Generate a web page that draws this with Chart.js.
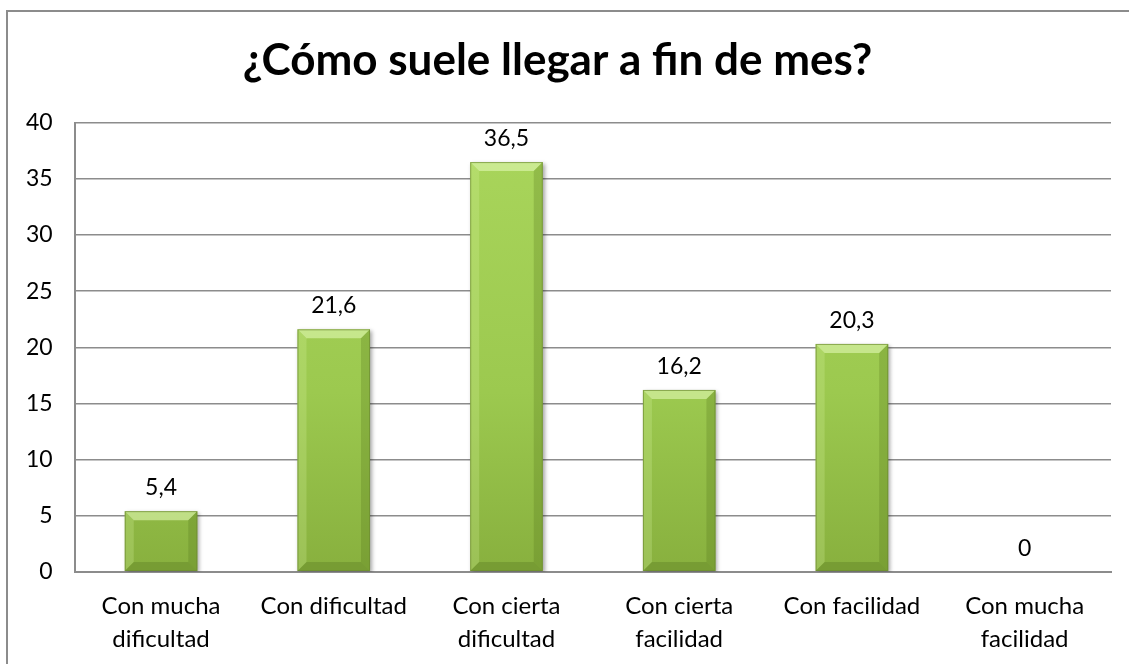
<!DOCTYPE html>
<html>
<head>
<meta charset="utf-8">
<script src="https://cdn.jsdelivr.net/npm/chart.js@4.4.0/dist/chart.umd.min.js"></script>
<style>
    html, body { margin: 0; padding: 0; background: #fff; }
    #wrap { width: 1129px; height: 664px; position: relative; }
</style>
</head>
<body>
<div id="wrap"><canvas id="chart"></canvas></div>
<script>
// --- DATA ---
const categories = [
    ['Con mucha', 'dificultad'],
    'Con dificultad',
    ['Con cierta', 'dificultad'],
    ['Con cierta', 'facilidad'],
    'Con facilidad',
    ['Con mucha', 'facilidad']
];
const values = [5.4, 21.6, 36.5, 16.2, 20.3, 0];
const yTicks = [0, 5, 10, 15, 20, 25, 30, 35, 40];
const chartTitle = '¿Cómo suele llegar a fin de mes?';

const FONT = "Lato, 'Open Sans', sans-serif";
const GRID = '#8c8c8c';

// outer frame like the spreadsheet chart box
const framePlugin = {
    id: 'frame',
    beforeDraw(chart) {
        const ctx = chart.ctx;
        ctx.save();
        ctx.fillStyle = '#fff';
        ctx.fillRect(0, 0, chart.width, chart.height);
        ctx.strokeStyle = GRID;
        ctx.lineWidth = 2;
        ctx.beginPath();
        ctx.moveTo(7, chart.height);
        ctx.lineTo(7, 11);
        ctx.lineTo(chart.width, 11);
        ctx.stroke();
        ctx.restore();
    }
};

// soft shadow under the bars
const shadowPlugin = {
    id: 'barShadow',
    beforeDatasetsDraw(chart) {
        const ctx = chart.ctx;
        ctx.save();
        ctx.shadowColor = 'rgba(0,0,0,0.35)';
        ctx.shadowBlur = 4;
        ctx.shadowOffsetX = 2;
        ctx.shadowOffsetY = 2;
    },
    afterDatasetsDraw(chart) {
        chart.ctx.restore();
    }
};

// bevelled bars + value labels
const bevelPlugin = {
    id: 'bevel',
    afterDatasetsDraw(chart) {
        const ctx = chart.ctx;
        const meta = chart.getDatasetMeta(0);
        meta.data.forEach((bar, i) => {
            const { x, y, base, width } = bar.getProps(['x', 'y', 'base', 'width'], true);
            const l = x - width / 2, r = x + width / 2;
            const h = base - y;
            if (h > 2) {
                const b = Math.min(9, h / 2);
                ctx.save();
                // top edge
                ctx.fillStyle = 'rgba(225,248,180,0.6)';
                ctx.beginPath();
                ctx.moveTo(l, y); ctx.lineTo(r, y); ctx.lineTo(r - b, y + b); ctx.lineTo(l + b, y + b);
                ctx.fill();
                // left edge
                ctx.fillStyle = 'rgba(215,245,160,0.25)';
                ctx.beginPath();
                ctx.moveTo(l, y); ctx.lineTo(l + b, y + b); ctx.lineTo(l + b, base - b); ctx.lineTo(l, base);
                ctx.fill();
                // right edge
                ctx.fillStyle = 'rgba(80,110,25,0.25)';
                ctx.beginPath();
                ctx.moveTo(r, y); ctx.lineTo(r - b, y + b); ctx.lineTo(r - b, base - b); ctx.lineTo(r, base);
                ctx.fill();
                // bottom edge
                ctx.fillStyle = 'rgba(80,110,25,0.3)';
                ctx.beginPath();
                ctx.moveTo(l, base); ctx.lineTo(l + b, base - b); ctx.lineTo(r - b, base - b); ctx.lineTo(r, base);
                ctx.fill();
                ctx.strokeStyle = 'rgba(110,140,50,0.7)';
                ctx.lineWidth = 1;
                ctx.strokeRect(l + 0.5, y + 0.5, width - 1, h - 1);
                ctx.restore();
            }
            // value label
            ctx.save();
            ctx.fillStyle = '#000';
            ctx.font = '23px ' + FONT;
            ctx.textAlign = 'center';
            ctx.textBaseline = 'alphabetic';
            ctx.fillText(String(values[i]).replace('.', ','), x, y - 16);
            ctx.restore();
        });
    }
};

function barGradient(context) {
    const chart = context.chart;
    const area = chart.chartArea;
    if (!area) return '#9bc84e';
    const g = chart.ctx.createLinearGradient(0, area.top, 0, area.bottom);
    g.addColorStop(0, '#aad65c');
    g.addColorStop(0.6, '#9cc94f');
    g.addColorStop(1, '#88b03e');
    return g;
}

new Chart(document.getElementById('chart'), {
    type: 'bar',
    data: {
        labels: categories,
        datasets: [{
            data: values,
            backgroundColor: barGradient,
            borderWidth: 0,
            barPercentage: 0.84,
            categoryPercentage: 0.5
        }]
    },
    options: {
        responsive: true,
        maintainAspectRatio: false,
        animation: false,
        layout: { padding: { left: 4, right: 18, top: 12, bottom: -10 } },
        plugins: {
            legend: { display: false },
            tooltip: { enabled: false },
            title: {
                display: true,
                text: chartTitle,
                color: '#000',
                font: { family: FONT, size: 44, weight: 'bold' },
                padding: { top: 22, bottom: 36 }
            }
        },
        scales: {
            x: {
                grid: { display: false, drawTicks: false },
                border: { display: true, color: GRID, width: 2 },
                ticks: {
                    color: '#000',
                    font: { family: FONT, size: 24, lineHeight: 1.38 },
                    padding: 18,
                    maxRotation: 0,
                    autoSkip: false
                }
            },
            y: {
                min: 0,
                max: 40,
                afterBuildTicks(axis) {
                    axis.ticks = yTicks.map(v => ({ value: v }));
                },
                grid: { color: GRID, lineWidth: 1.5, drawTicks: false },
                border: { display: true, color: GRID, width: 2 },
                ticks: {
                    color: '#000',
                    font: { family: FONT, size: 23 },
                    padding: 22
                }
            }
        }
    },
    plugins: [framePlugin, shadowPlugin, bevelPlugin]
});
</script>
</body>
</html>
